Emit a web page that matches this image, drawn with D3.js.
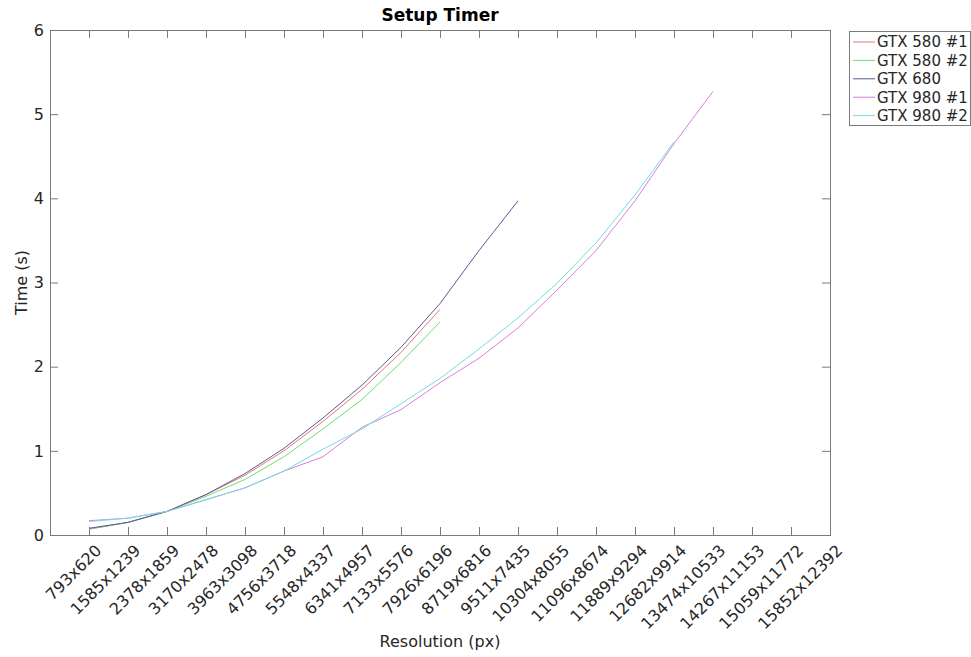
<!DOCTYPE html>
<html>
<head>
<meta charset="utf-8">
<script src="https://cdn.jsdelivr.net/npm/d3@7"></script>
<style>
  body { margin: 0; background: #fff; }
  text { font-family: "DejaVu Sans", sans-serif; fill: #262626; }
</style>
</head>
<body>
<svg id="chart" width="971" height="657"></svg>
<script>
// resolutions on the x axis
const resolutions = ["793x620", "1585x1239", "2378x1859", "3170x2478", "3963x3098",
  "4756x3718", "5548x4337", "6341x4957", "7133x5576", "7926x6196", "8719x6816",
  "9511x7435", "10304x8055", "11096x8674", "11889x9294", "12682x9914",
  "13474x10533", "14267x11153", "15059x11772", "15852x12392"];

// setup time in seconds, one value per resolution (series stop where the card ran out)
const gtx580a = [0.07, 0.15, 0.28, 0.48, 0.71, 1.00, 1.35, 1.73, 2.17, 2.68];
const gtx580b = [0.07, 0.15, 0.28, 0.46, 0.66, 0.93, 1.26, 1.61, 2.05, 2.53];
const gtx680 = [0.08, 0.15, 0.28, 0.48, 0.73, 1.03, 1.39, 1.78, 2.23, 2.75, 3.38, 3.97];
const gtx980a = [0.17, 0.20, 0.28, 0.42, 0.56, 0.76, 0.93, 1.28, 1.49, 1.81, 2.10, 2.46,
  2.91, 3.38, 3.97, 4.65, 5.27];
const gtx980b = [0.16, 0.20, 0.28, 0.42, 0.56, 0.76, 1.02, 1.26, 1.56, 1.86, 2.21, 2.58,
  2.99, 3.47, 4.04, 4.67];

const seriesNames = ["GTX 580 #1", "GTX 580 #2", "GTX 680", "GTX 980 #1", "GTX 980 #2"];
const seriesColors = ["#e07878", "#70dd70", "#5a5a9c", "#dd7ddd", "#70dede"];
const yTicks = [0, 1, 2, 3, 4, 5, 6];

const series = [gtx580a, gtx580b, gtx680, gtx980a, gtx980b].map((vals, i) => ({
  name: seriesNames[i],
  color: seriesColors[i],
  values: vals
}));

const svg = d3.select("#chart");
const plotLeft = 50, plotRight = 830, plotTop = 30, plotBottom = 535;
const axisColor = "#7a7a7a";

// matlab style: x from 0 to n, categories at 1..n
const x = d3.scaleLinear().domain([0, resolutions.length]).range([plotLeft, plotRight]);
const y = d3.scaleLinear().domain([0, 6]).range([plotBottom, plotTop]);

// box
svg.append("rect")
  .attr("x", plotLeft + 0.5).attr("y", plotTop + 0.5)
  .attr("width", plotRight - plotLeft).attr("height", plotBottom - plotTop)
  .attr("fill", "none").attr("stroke", axisColor).attr("stroke-width", 1);

const idx = d3.range(1, resolutions.length + 1);
const tickLen = 8;

// x ticks, bottom and top, pointing inwards
svg.append("g").selectAll("line")
  .data(idx).enter().append("line")
  .attr("x1", d => x(d) + 0.5).attr("x2", d => x(d) + 0.5)
  .attr("y1", plotBottom).attr("y2", plotBottom - tickLen)
  .attr("stroke", axisColor);
svg.append("g").selectAll("line")
  .data(idx).enter().append("line")
  .attr("x1", d => x(d) + 0.5).attr("x2", d => x(d) + 0.5)
  .attr("y1", plotTop).attr("y2", plotTop + tickLen)
  .attr("stroke", axisColor);

// y ticks left and right
svg.append("g").selectAll("line")
  .data(yTicks).enter().append("line")
  .attr("x1", plotLeft).attr("x2", plotLeft + tickLen)
  .attr("y1", d => y(d) + 0.5).attr("y2", d => y(d) + 0.5)
  .attr("stroke", axisColor);
svg.append("g").selectAll("line")
  .data(yTicks).enter().append("line")
  .attr("x1", plotRight).attr("x2", plotRight - tickLen)
  .attr("y1", d => y(d) + 0.5).attr("y2", d => y(d) + 0.5)
  .attr("stroke", axisColor);

// tick labels
svg.append("g").selectAll("text")
  .data(yTicks).enter().append("text")
  .attr("x", plotLeft - 6).attr("y", d => y(d))
  .attr("dy", "0.36em")
  .attr("text-anchor", "end")
  .style("font-size", "16px")
  .text(d => d);

svg.append("g").selectAll("text")
  .data(idx).enter().append("text")
  .attr("transform", d => "translate(" + (x(d) + 5) + "," + (plotBottom + 8) + ") rotate(-45)")
  .attr("dy", "0.75em")
  .attr("text-anchor", "end")
  .style("font-size", "16px")
  .text(d => resolutions[d - 1]);

// lines
const line = d3.line()
  .x((d, i) => x(i + 1))
  .y(d => y(d));

svg.append("g").selectAll("path")
  .data(series).enter().append("path")
  .attr("d", d => line(d.values))
  .attr("fill", "none")
  .attr("stroke", d => d.color)
  .attr("stroke-width", 1);

// title and axis labels
svg.append("text")
  .attr("x", (plotLeft + plotRight) / 2).attr("y", 21)
  .attr("text-anchor", "middle")
  .style("font-size", "17px").style("font-weight", "bold")
  .style("fill", "#000")
  .text("Setup Timer");

svg.append("text")
  .attr("transform", "translate(27," + (plotTop + plotBottom) / 2 + ") rotate(-90)")
  .attr("text-anchor", "middle")
  .style("font-size", "16px")
  .text("Time (s)");

svg.append("text")
  .attr("x", (plotLeft + plotRight) / 2).attr("y", 647)
  .attr("text-anchor", "middle")
  .style("font-size", "16px")
  .text("Resolution (px)");

// legend
const legend = svg.append("g").attr("transform", "translate(849,31)");
legend.append("rect")
  .attr("x", 0.5).attr("y", 0.5)
  .attr("width", 121).attr("height", 94)
  .attr("fill", "#fff").attr("stroke", axisColor);
const entry = legend.selectAll("g")
  .data(series).enter().append("g")
  .attr("transform", (d, i) => "translate(0," + (11 + i * 18.4) + ")");
entry.append("line")
  .attr("x1", 4).attr("x2", 26)
  .attr("stroke", d => d.color).attr("stroke-width", 1);
entry.append("text")
  .attr("x", 28).attr("dy", "0.36em")
  .style("font-size", "15px")
  .text(d => d.name);
</script>
</body>
</html>
